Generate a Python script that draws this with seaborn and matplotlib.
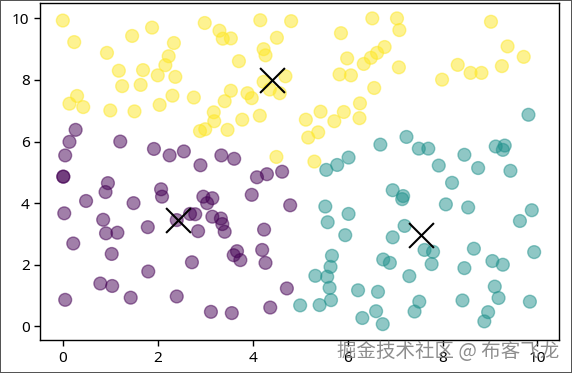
import pandas as pd
import seaborn as sns
import matplotlib.pyplot as plt

# cluster 0 (purple)
c0_x = [0.27, 0.14, 0.05, 1.21, 1.92, 2.25, 2.55, 2.90, 3.34, 3.61, 0.01, 0.01,
        0.95, 0.90, 0.49, 1.49, 2.07, 2.09, 0.03, 0.85, 1.79, 0.91, 1.15, 0.22,
        1.03, 1.80, 0.79, 1.04, 0.05, 1.43, 2.40, 2.72, 2.40, 2.68, 2.79, 2.85,
        2.96, 3.15, 3.04, 3.15, 3.33, 3.36, 3.41, 3.12, 4.09, 4.30, 4.62, 3.98,
        4.79, 4.24, 3.67, 3.60, 3.74, 4.20, 4.27, 4.72, 3.56, 4.37]
c0_y = [6.38, 5.99, 5.55, 6.00, 5.76, 5.55, 5.68, 5.23, 5.55, 5.44, 4.86, 4.86,
        4.65, 4.36, 4.07, 4.00, 4.45, 4.21, 3.67, 3.46, 3.22, 3.02, 3.04, 2.69,
        2.35, 1.78, 1.39, 1.31, 0.86, 0.93, 0.97, 2.08, 3.45, 3.65, 3.64, 3.09,
        4.21, 4.16, 4.00, 3.56, 3.50, 3.32, 3.07, 0.47, 4.84, 4.94, 5.02, 4.27,
        3.93, 3.14, 2.44, 2.31, 2.15, 2.48, 2.06, 1.23, 0.43, 0.61]

# cluster 1 (teal)
c1_x = [6.69, 5.55, 5.78, 6.02, 7.24, 7.50, 7.70, 8.46, 9.12, 9.31, 9.27, 7.92,
        8.75, 9.43, 9.81, 5.53, 5.58, 6.02, 5.95, 5.67, 5.64, 5.32, 5.57, 5.62,
        5.65, 5.41, 5.00, 6.75, 6.22, 6.64, 6.60, 6.31, 6.74, 8.20, 6.95, 7.17,
        7.15, 8.07, 8.54, 9.88, 9.63, 7.20, 6.95, 7.62, 7.80, 7.77, 8.66, 9.93,
        6.89, 8.46, 9.05, 9.27, 7.30, 9.10, 9.18, 7.51, 7.41, 8.42, 9.84, 8.96, 8.88]
c1_y = [5.90, 5.08, 5.24, 5.48, 6.15, 5.77, 5.77, 5.57, 5.84, 5.87, 5.73, 5.22,
        5.14, 5.05, 6.87, 3.89, 3.38, 3.65, 2.96, 2.29, 1.93, 1.64, 1.61, 1.25,
        0.85, 0.69, 0.68, 2.17, 1.17, 1.12, 0.49, 0.27, 0.07, 4.66, 4.42, 4.23,
        4.13, 3.96, 3.86, 3.77, 3.42, 3.26, 2.89, 2.48, 2.42, 2.02, 2.52, 2.41,
        2.06, 1.89, 2.12, 2.00, 1.63, 1.29, 0.92, 0.80, 0.48, 0.84, 0.80, 0.46, 0.16]

# cluster 2 (yellow)
c2_x = [0.00, 0.24, 1.46, 1.88, 2.99, 3.30, 0.93, 2.34, 2.23, 2.16, 1.18, 1.69,
        2.00, 2.37, 1.25, 1.64, 0.30, 0.14, 0.43, 1.00, 1.51, 2.04, 2.31, 2.76,
        3.18, 3.19, 2.89, 3.00, 4.16, 4.81, 6.52, 3.37, 3.54, 4.51, 5.86, 4.23,
        4.27, 3.71, 5.99, 6.34, 6.49, 6.62, 6.78, 4.69, 4.23, 4.36, 4.57, 5.83,
        6.07, 6.56, 3.54, 3.41, 3.89, 3.98, 3.78, 4.15, 3.47, 5.12, 5.43, 5.72,
        5.92, 6.26, 6.25, 5.17, 5.38, 4.50, 5.30, 7.04, 7.09, 9.02, 9.37, 9.71,
        7.08, 8.32, 8.59, 8.82, 9.25, 7.99]
c2_y = [9.93, 9.23, 9.43, 9.70, 9.85, 9.60, 8.88, 9.20, 8.77, 8.48, 8.30, 8.32,
        8.15, 8.10, 7.80, 7.84, 7.48, 7.23, 7.12, 7.01, 6.98, 7.19, 7.49, 7.43,
        6.95, 6.66, 6.34, 6.40, 9.94, 9.91, 10.00, 9.34, 9.35, 9.37, 9.52, 9.00,
        8.80, 8.61, 8.70, 8.52, 8.72, 8.88, 9.07, 8.12, 7.94, 7.69, 7.57, 8.18,
        8.15, 7.74, 7.65, 7.31, 7.57, 7.41, 6.71, 6.84, 6.38, 6.71, 6.97, 6.66,
        6.96, 7.24, 6.76, 6.13, 6.30, 5.50, 5.35, 10.00, 9.62, 9.89, 9.09, 8.75,
        8.41, 8.49, 8.23, 8.23, 8.45, 8.01]

# cluster centers
center_x = [2.43, 7.54, 4.41]
center_y = [3.45, 2.96, 8.01]

df = pd.DataFrame({
    "x": c0_x + c1_x + c2_x,
    "y": c0_y + c1_y + c2_y,
    "label": [0] * len(c0_x) + [1] * len(c1_x) + [2] * len(c2_x),
})

sns.set_style("ticks")
plt.rcParams["font.family"] = ["Noto Sans", "DejaVu Sans"]

fig = plt.figure(figsize=(5.72, 3.73), dpi=100)
ax = fig.add_axes([0.07, 0.088, 0.907, 0.904])

sns.scatterplot(data=df, x="x", y="y", hue="label", palette="viridis",
                s=85, alpha=0.5, edgecolor="face", linewidth=1, legend=False, ax=ax)
sns.scatterplot(x=center_x, y=center_y, marker="x", color="black",
                s=320, linewidth=1.5, ax=ax)

ax.set_xlim(-0.48, 10.45)
ax.set_ylim(-0.45, 10.5)
ax.set_xticks([0, 2, 4, 6, 8, 10])
ax.set_yticks([0, 2, 4, 6, 8, 10])
ax.set_xlabel("")
ax.set_ylabel("")
ax.tick_params(labelsize=11, length=4, width=1, colors="black")
for sp in ax.spines.values():
    sp.set_color("black")
    sp.set_linewidth(1)

# watermark
fig.text(0.978, 0.057, "掘金技术社区 @ 布客飞龙", ha="right", va="center",
         fontsize=14, color="#7a7a7a", alpha=0.85,
         family=["Noto Sans CJK SC", "DejaVu Sans"])

fig.patch.set_edgecolor("#555555")
fig.patch.set_linewidth(1.2)

fig.savefig("out.png", dpi=100)
